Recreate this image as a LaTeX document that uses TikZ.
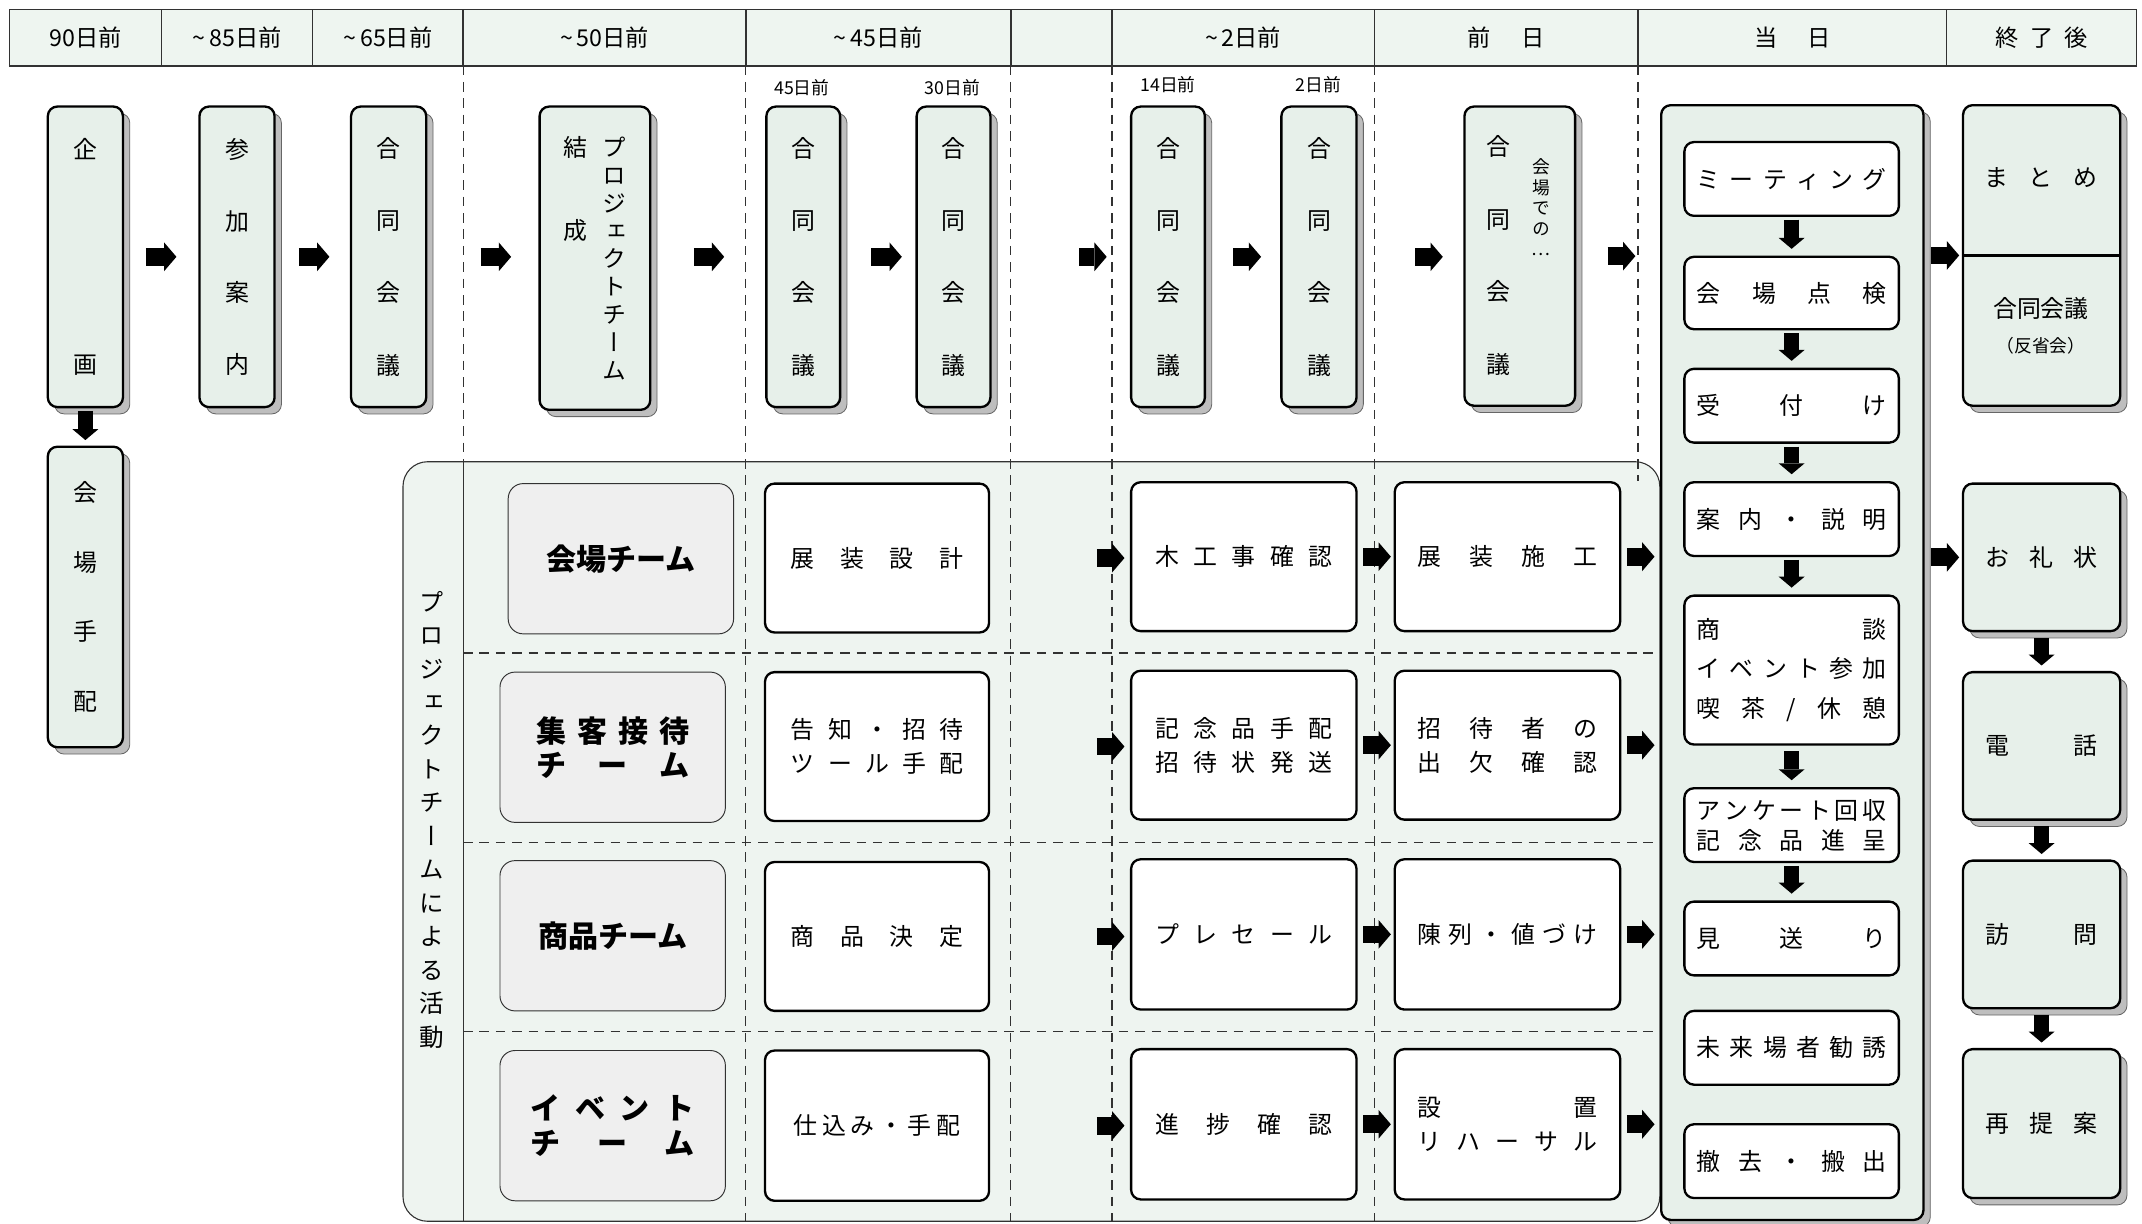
\documentclass[tikz,border=0pt]{standalone}
\usepackage{fontspec}
\setmainfont{Noto Sans CJK JP}
\newfontfamily\vfont[RawFeature=+vert]{Noto Sans CJK JP}
\usetikzlibrary{shadows,arrows.meta,calc}
\definecolor{boxgreen}{RGB}{231,240,234}
\definecolor{headgreen}{RGB}{238,245,240}
\definecolor{panelgreen}{RGB}{238,244,240}
\definecolor{teamgray}{RGB}{239,239,239}
\definecolor{shadowgray}{RGB}{190,190,190}
\definecolor{linegray}{RGB}{50,50,50}
\newcommand\mybox[7]{%
  \pgfmathsetmacro\myw{#4-#2}\pgfmathsetmacro\myh{#5-#3}%
  \node[#6, minimum width=\myw pt, minimum height=\myh pt] (#1) at ({(#2+#4)/2},{(#3+#5)/2}) {#7};}
\def\sprloop#1#2{#1\ifx\relax#2\else\hfill\expandafter\sprloop\expandafter#2\fi}
\newcommand\spr[2]{\makebox[#1pt]{\sprloop#2\relax}}
\def\vstloop#1{\ifx\relax#1\else\hbox to 1em{\hss#1\hss}\expandafter\vstloop\fi}
\newcommand\vst[2]{\vtop{\baselineskip=#1pt\lineskip=0pt\lineskiplimit=-100pt\vstloop#2\relax}}
\begin{document}
\begin{tikzpicture}[x=1pt,y=-1pt,
  shad/.style={general shadow={fill=shadowgray, draw=black!60, line width=0.6pt, shadow xshift=5pt, shadow yshift=-5pt}},
  hcell/.style={draw=linegray, line width=0.9pt, fill=headgreen, inner sep=0pt, font=\fontsize{17}{19}\selectfont},
  gbox/.style={draw, line width=1.7pt, rounded corners=7pt, fill=boxgreen, inner sep=0pt, shad, font=\fontsize{17.5}{20}\selectfont},
  wbox/.style={draw, line width=1.7pt, rounded corners=7pt, fill=white, inner sep=0pt, align=center, font=\fontsize{17.5}{25}\selectfont},
  tbox/.style={draw=linegray, line width=0.7pt, rounded corners=11pt, fill=teamgray, inner sep=0pt, align=center, font=\fontsize{22}{25}\selectfont\bfseries},
  panel/.style={draw=linegray, line width=0.8pt, rounded corners=18pt, fill=panelgreen, inner sep=0pt},
  dline/.style={draw=linegray, line width=0.85pt, dash pattern=on 7pt off 5pt},
  rarr/.style={line width=13pt, -{Triangle[length=9pt,width=21pt,line width=0pt]}},
  darr/.style={line width=11pt, -{Triangle[length=8pt,width=19pt,line width=0pt]}},
  small/.style={font=\fontsize{13}{15}\selectfont, inner sep=0pt},
  lab/.style={inner sep=0pt}
]
\useasboundingbox (0,0) rectangle (1568,896);
% header
\mybox{h1}{7}{7}{118}{48}{hcell}{90日前}
\mybox{h2}{118}{7}{229}{48}{hcell}{\textasciitilde\,85日前}
\mybox{h3}{229}{7}{339}{48}{hcell}{\textasciitilde\,65日前}
\mybox{h4}{339}{7}{546}{48}{hcell}{\textasciitilde\,50日前}
\mybox{h5}{546}{7}{740}{48}{hcell}{\textasciitilde\,45日前}
\mybox{h6}{740}{7}{814}{48}{hcell}{}
\mybox{h7}{814}{7}{1006}{48}{hcell}{\textasciitilde\,2日前}
\mybox{h8}{1006}{7}{1199}{48}{hcell}{\spr{56}{前日}}
\mybox{h9}{1199}{7}{1425}{48}{hcell}{\spr{56}{当日}}
\mybox{h10}{1425}{7}{1564}{48}{hcell}{\spr{68}{終了後}}
\draw[linegray, line width=1.4pt] (h1.south west) -- (h10.south east);
% panel
\mybox{panel}{295}{338}{1215}{894}{panel}{}
\draw[linegray, line width=0.7pt] (339,338) -- (339,894);
\node[lab, font=\vfont\fontsize{18}{20}\selectfont] (pjlabel) at (316,600) {\vst{24.5}{プロジェクトチームによる活動}};
% dashed guides
\foreach \xx in {546,740,814,1006} \draw[dline] (\xx,48) -- (\xx,894);
\draw[dline] (339,48) -- (339,338);
\draw[dline] (1199,48) -- (1199,352);
\foreach \yy in {478,617,755} \draw[dline] (339,\yy) -- (1215,\yy);
% top row
\mybox{kikaku}{35}{78}{90}{298}{gbox}{\vst{157}{企画}}
\mybox{sanka}{146}{78}{201}{298}{gbox}{\vst{52.3}{参加案内}}
\mybox{goudouA}{257}{78}{312}{298}{gbox}{\vst{53}{合同会議}}
\mybox{pj}{395}{78}{476}{300}{gbox}{\vfont\vst{61}{結成}\hspace{11pt}\vst{20.4}{プロジェクトチーム}}
\mybox{goudouB}{561}{78}{615}{298}{gbox}{\vst{53}{合同会議}}
\mybox{goudouC}{671}{78}{725}{298}{gbox}{\vst{53}{合同会議}}
\mybox{goudouD}{828}{78}{882}{298}{gbox}{\vst{53}{合同会議}}
\mybox{goudouE}{938}{78}{993}{298}{gbox}{\vst{53}{合同会議}}
\mybox{goudouF}{1072}{78}{1153}{297}{gbox}{}
\node[lab, font=\fontsize{17.5}{20}\selectfont] (goudouFt) at (1097,187) {\vst{53}{合同会議}};
\node[lab, font=\vfont\fontsize{13}{15}\selectfont] (kaijoude) at (1128,152) {\vst{15}{会場での…}};
\node[small] (l45) at (587,64) {45日前};
\node[small] (l30) at (697,64) {30日前};
\node[small] (l14) at (855,62) {14日前};
\node[small] (l2) at (965,62) {2日前};
\mybox{kaijou}{35}{327}{90}{547}{gbox}{\vst{51}{会場手配}}
% teams
\mybox{t1}{372}{354}{537}{464}{tbox}{会場チーム}
\mybox{t2}{366}{492}{531}{602}{tbox}{\spr{112}{集客接待}\\\spr{112}{チーム}}
\mybox{t3}{366}{630}{531}{740}{tbox}{商品チーム}
\mybox{t4}{366}{769}{531}{879}{tbox}{\spr{120}{イベント}\\\spr{120}{チーム}}
% column 1
\mybox{c1a}{560}{354}{724}{463}{wbox}{\spr{126}{展装設計}}
\mybox{c1b}{560}{492}{724}{601}{wbox}{\spr{126}{告知・招待}\\\spr{126}{ツール手配}}
\mybox{c1c}{560}{631}{724}{740}{wbox}{\spr{126}{商品決定}}
\mybox{c1d}{560}{769}{724}{879}{wbox}{\spr{122}{仕込み・手配}}
% column 2
\mybox{c2a}{828}{353}{993}{462}{wbox}{\spr{130}{木工事確認}}
\mybox{c2b}{828}{491}{993}{600}{wbox}{\spr{130}{記念品手配}\\\spr{130}{招待状発送}}
\mybox{c2c}{828}{629}{993}{739}{wbox}{\spr{130}{プレセール}}
\mybox{c2d}{828}{768}{993}{878}{wbox}{\spr{130}{進捗確認}}
% column 3
\mybox{c3a}{1021}{353}{1186}{462}{wbox}{\spr{132}{展装施工}}
\mybox{c3b}{1021}{491}{1186}{600}{wbox}{\spr{132}{招待者の}\\\spr{132}{出欠確認}}
\mybox{c3c}{1021}{629}{1186}{739}{wbox}{\spr{132}{陳列・値づけ}}
\mybox{c3d}{1021}{768}{1186}{878}{wbox}{\spr{132}{設置}\\\spr{132}{リハーサル}}
% day-of panel
\mybox{toujitsu}{1216}{77}{1408}{893}{gbox}{}
\mybox{d1}{1233}{104}{1390}{158}{wbox}{\spr{139}{ミーティング}}
\mybox{d2}{1233}{188}{1390}{241}{wbox}{\spr{139}{会場点検}}
\mybox{d3}{1233}{270}{1390}{324}{wbox}{\spr{139}{受付け}}
\mybox{d4}{1233}{353}{1390}{407}{wbox}{\spr{139}{案内・説明}}
\mybox{d5}{1233}{436}{1390}{545}{wbox, font=\fontsize{17.5}{29}\selectfont}{\spr{139}{商談}\\\spr{139}{イベント参加}\\\spr{139}{喫茶/休憩}}
\mybox{d6}{1233}{577}{1390}{631}{wbox, font=\fontsize{17.5}{22}\selectfont}{\spr{139}{アンケート回収}\\\spr{139}{記念品進呈}}
\mybox{d7}{1233}{660}{1390}{714}{wbox}{\spr{139}{見送り}}
\mybox{d8}{1233}{740}{1390}{794}{wbox}{\spr{139}{未来場者勧誘}}
\mybox{d9}{1233}{823}{1390}{877}{wbox}{\spr{139}{撤去・搬出}}
% after
\mybox{matome}{1437}{77}{1552}{297}{gbox}{}
\draw[line width=1.7pt] (matome.west) -- (matome.east);
\node[lab, font=\fontsize{17.5}{20}\selectfont] (matomeT) at (1494,130) {\spr{82}{まとめ}};
\node[lab, font=\fontsize{17.5}{20}\selectfont] (goudouG) at (1494,226) {合同会議};
\node[lab, font=\fontsize{13}{15}\selectfont] (hansei) at (1494,253) {（反省会）};
\mybox{orei}{1437}{354}{1552}{462}{gbox}{\spr{82}{お礼状}}
\mybox{denwa}{1437}{492}{1552}{600}{gbox}{\spr{82}{電話}}
\mybox{houmon}{1437}{630}{1552}{738}{gbox}{\spr{82}{訪問}}
\mybox{saiteian}{1437}{768}{1552}{877}{gbox}{\spr{82}{再提案}}
% arrows top row
\draw[rarr, shorten <=16pt, shorten >=16pt] (kikaku.east) -- (kikaku.east -| sanka.west);
\draw[rarr, shorten <=17pt, shorten >=15pt] (sanka.east) -- (sanka.east -| goudouA.west);
\draw[rarr, shorten <=39pt, shorten >=20pt] (goudouA.east) -- (goudouA.east -| pj.west);
\draw[rarr, shorten <=31pt, shorten >=30pt] (pj.east |- goudouB.west) -- (goudouB.west);
\draw[rarr, shorten <=22pt, shorten >=10pt] (goudouB.east) -- (goudouB.east -| goudouC.west);
\draw[rarr, shorten <=64pt, shorten >=17pt] (goudouC.east) -- (goudouC.east -| goudouD.west);
\draw[rarr, shorten <=20pt, shorten >=14pt] (goudouD.east) -- (goudouD.east -| goudouE.west);
\draw[rarr, shorten <=42pt, shorten >=15pt] (goudouE.east) -- (goudouE.east -| goudouF.west);
\draw[rarr, shorten <=23pt, shorten >=18pt] (goudouF.east) -- (goudouF.east -| toujitsu.west);
\draw[rarr, shorten <=5pt, shorten >=2pt] (toujitsu.east |- matome.west) -- (matome.west);
\draw[darr, shorten <=2pt, shorten >=4pt] (kikaku.south) -- (kaijou.north);
% panel arrows
\foreach \r in {a,b,c,d}{
  \draw[rarr, shorten <=78pt, shorten >=4pt] (c1\r.east) -- (c1\r.east -| c2\r.west);
  \draw[rarr, shorten <=4pt, shorten >=2pt] (c2\r.east) -- (c2\r.east -| c3\r.west);
  \draw[rarr, shorten <=4pt, shorten >=4pt] (c3\r.east) -- (c3\r.east -| toujitsu.west);
}
\draw[rarr, shorten <=5pt, shorten >=2pt] (toujitsu.east |- orei.west) -- (orei.west);
% day-of arrows
\draw[darr, shorten <=2pt, shorten >=5pt] (d1.south) -- (d2.north);
\draw[darr, shorten <=2pt, shorten >=5pt] (d2.south) -- (d3.north);
\draw[darr, shorten <=2pt, shorten >=5pt] (d3.south) -- (d4.north);
\draw[darr, shorten <=2pt, shorten >=5pt] (d4.south) -- (d5.north);
\draw[darr, shorten <=4pt, shorten >=5pt] (d5.south) -- (d6.north);
\draw[darr, shorten <=2pt, shorten >=5pt] (d6.south) -- (d7.north);
% after arrows
\draw[darr, shorten <=4pt, shorten >=4pt] (orei.south) -- (denwa.north);
\draw[darr, shorten <=4pt, shorten >=4pt] (denwa.south) -- (houmon.north);
\draw[darr, shorten <=4pt, shorten >=4pt] (houmon.south) -- (saiteian.north);
\end{tikzpicture}
\end{document}
